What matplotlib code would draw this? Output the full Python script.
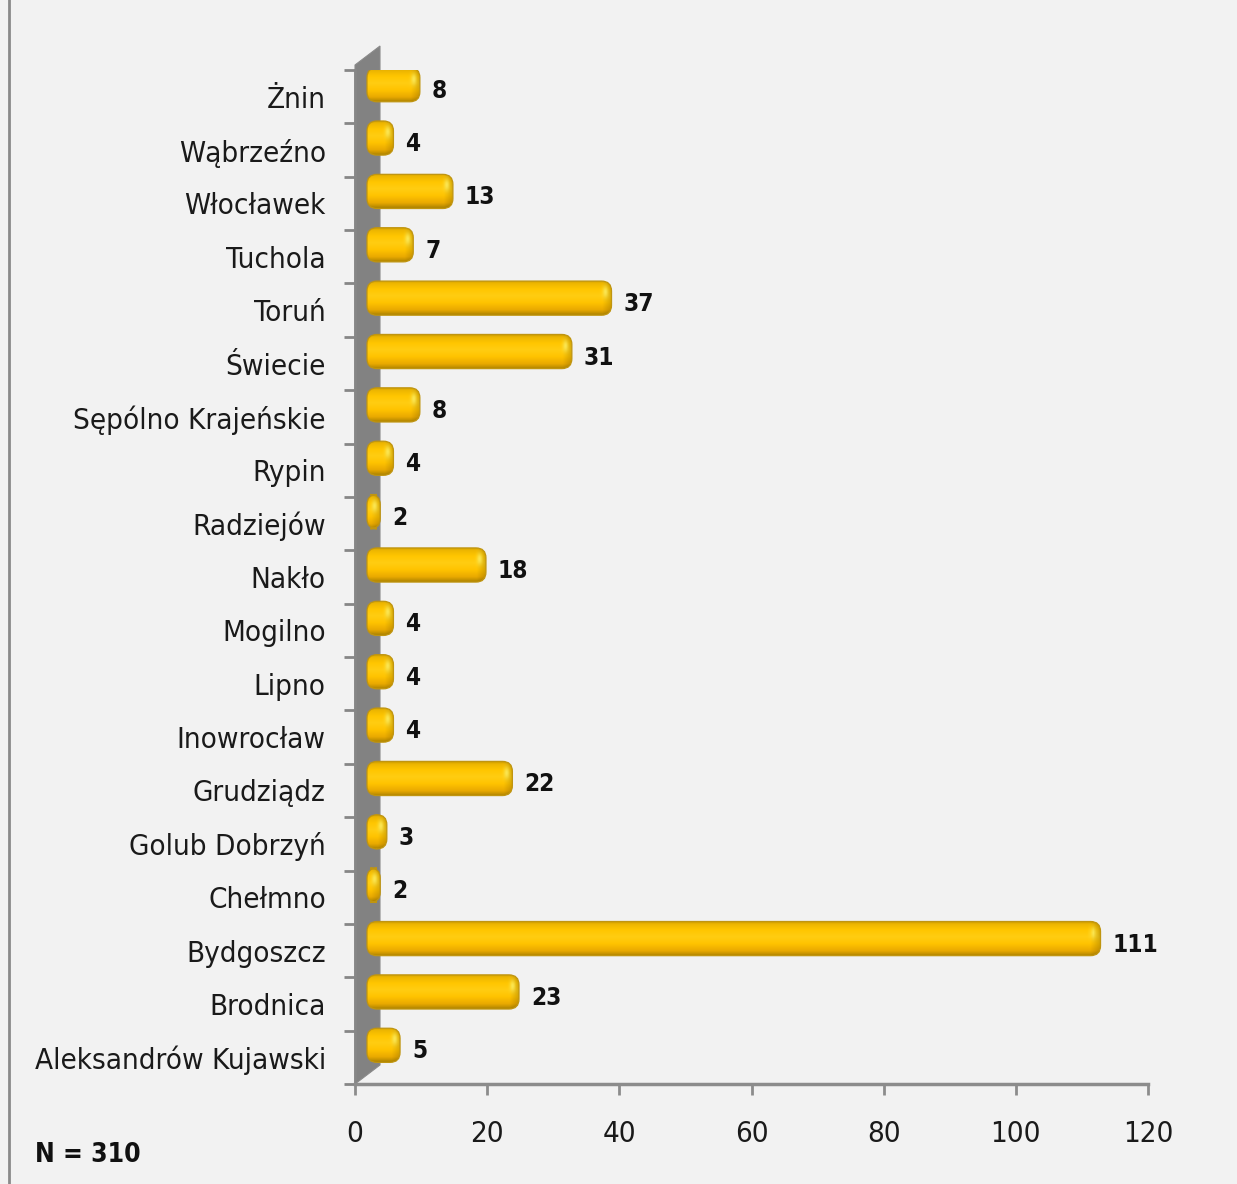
import numpy as np
import matplotlib
matplotlib.use("Agg")
import matplotlib.pyplot as plt
from matplotlib import font_manager
from matplotlib.patches import FancyBboxPatch, Polygon
from matplotlib.colors import to_rgb, LinearSegmentedColormap
from matplotlib.transforms import ScaledTranslation, IdentityTransform
from matplotlib.lines import Line2D

# counts per district, listed bottom to top
cities = ['Aleksandrów Kujawski', 'Brodnica', 'Bydgoszcz', 'Chełmno',
          'Golub Dobrzyń', 'Grudziądz', 'Inowrocław', 'Lipno', 'Mogilno',
          'Nakło', 'Radziejów', 'Rypin', 'Sępólno Krajeńskie', 'Świecie',
          'Toruń', 'Tuchola', 'Włocławek', 'Wąbrzeźno', 'Żnin']
counts = [5, 23, 111, 2, 3, 22, 4, 4, 4, 18, 2, 4, 8, 31, 37, 7, 13, 4, 8]
x_ticks = [0, 20, 40, 60, 80, 100, 120]
total_label = 'N = 310'

names = {f.name for f in font_manager.fontManager.ttflist}
if 'Liberation Sans Narrow' in names:
    plt.rcParams['font.family'] = ['Liberation Sans Narrow', 'DejaVu Sans']
else:
    plt.rcParams['font.family'] = ['DejaVu Sans']
    plt.rcParams['font.stretch'] = 'condensed'

W, H, DPI = 1237, 1184, 100
fig = plt.figure(figsize=(W / DPI, H / DPI), dpi=DPI, facecolor='#F2F2F2')

# axes placed in pixels: x=0 at 355, x=120 at 1148, bottom 1084, top 70
ax = fig.add_axes([355 / W, (H - 1084) / H, 793 / W, 1014 / H])
ax.set_facecolor('none')
ax.set_xlim(0, 120)
ax.set_ylim(-0.5, len(cities) - 0.5)
ax.set_autoscale_on(False)

px_per_x = 793 / 120
px_per_y = 1014 / len(cities)

# grey side wall behind the bars
ax0 = ax.transData.transform((0, -0.5))
ax1 = ax.transData.transform((0, len(cities) - 0.5))
wall = Polygon([(ax0[0], ax0[1]), (ax1[0], ax1[1] + 5),
                (ax1[0] + 25, ax1[1] + 24), (ax0[0] + 25, ax0[1] + 19)],
               closed=True, transform=IdentityTransform(), clip_on=False,
               facecolor='#828282', edgecolor='#8a8a8a', lw=0.8, zorder=1)
ax.add_patch(wall)

# bars sit half-way into the depth of the wall
shift = ScaledTranslation(12 / DPI, 12 / DPI, fig.dpi_scale_trans)
btrans = ax.transData + shift

stops = [(0.0, '#C99A00'), (0.08, '#EDB500'), (0.25, '#FFC600'),
         (0.45, '#FFCD12'), (0.65, '#FFC300'), (0.86, '#E9A900'),
         (1.0, '#AE8400')]
gold = LinearSegmentedColormap.from_list('gold', [(p, to_rgb(c)) for p, c in stops])

bar_h = 0.64
r_px = 10
for i, v in enumerate(counts):
    y0 = i - bar_h / 2
    box = FancyBboxPatch((0, y0), v, bar_h,
                         boxstyle=f'round,pad=0,rounding_size={r_px / px_per_x}',
                         mutation_aspect=(px_per_x / px_per_y),
                         transform=btrans, facecolor='none',
                         edgecolor='#C09510', lw=0.9, zorder=4)
    ax.add_patch(box)

    ny, nx = 60, 240
    t = np.linspace(0, 1, ny)[:, None]
    img = gold(np.repeat(t, nx, axis=1))[:, :, :3]
    wpx = v * px_per_x
    xs = np.linspace(0, wpx, nx)[None, :]
    d = wpx - xs
    # darker rim round the right-hand end
    img *= (1 - 0.16 * np.clip(1 - d / 9, 0, 1))[:, :, None]
    # small bright spot near the end cap
    spot = np.exp(-((d - 6) ** 2) / (2 * 2.0 ** 2) - ((t - 0.33) ** 2) / (2 * 0.12 ** 2))
    img = img + spot[:, :, None] * (np.array([1.0, 0.97, 0.45]) - img) * 0.7
    im = ax.imshow(np.clip(img, 0, 1), extent=(0, v, y0, y0 + bar_h),
                   aspect='auto', interpolation='bilinear',
                   transform=btrans, zorder=3)
    im.set_clip_path(box)

    ax.annotate(str(v), xy=(v, i), xycoords='data',
                xytext=(24, 6), textcoords='offset pixels',
                ha='left', va='center', fontsize=17.5, fontweight='bold',
                color='#111111', zorder=5)

# axes styling
for side in ('top', 'right'):
    ax.spines[side].set_visible(False)
ax.spines['left'].set_color('#868686')
ax.spines['left'].set_linewidth(2)
ax.spines['left'].set_zorder(2)
ax.spines['bottom'].set_color('#8c8c8c')
ax.spines['bottom'].set_linewidth(2.5)

ax.set_yticks(range(len(cities)))
ax.set_yticklabels(cities)
ax.set_yticks(np.arange(-0.5, len(cities), 1), minor=True)
ax.tick_params(axis='y', which='major', length=0, pad=21, labelsize=21.2,
               labelcolor='#1a1a1a')
ax.tick_params(axis='y', which='minor', length=8, width=2, color='#868686')

ax.set_xticks(x_ticks)
ax.tick_params(axis='x', which='major', length=8, width=2, color='#8c8c8c',
               pad=18, labelsize=21.2, labelcolor='#1a1a1a')

# left frame line and sample size note
fig.add_artist(Line2D([8.5 / W, 8.5 / W], [0, 1], color='#8a8a8a', lw=2))
fig.text(35 / W, 1 - 1155 / H, total_label, ha='left', va='center',
         fontsize=19, fontweight='bold', color='#111111')

fig.savefig('out.png', dpi=DPI, facecolor=fig.get_facecolor())
